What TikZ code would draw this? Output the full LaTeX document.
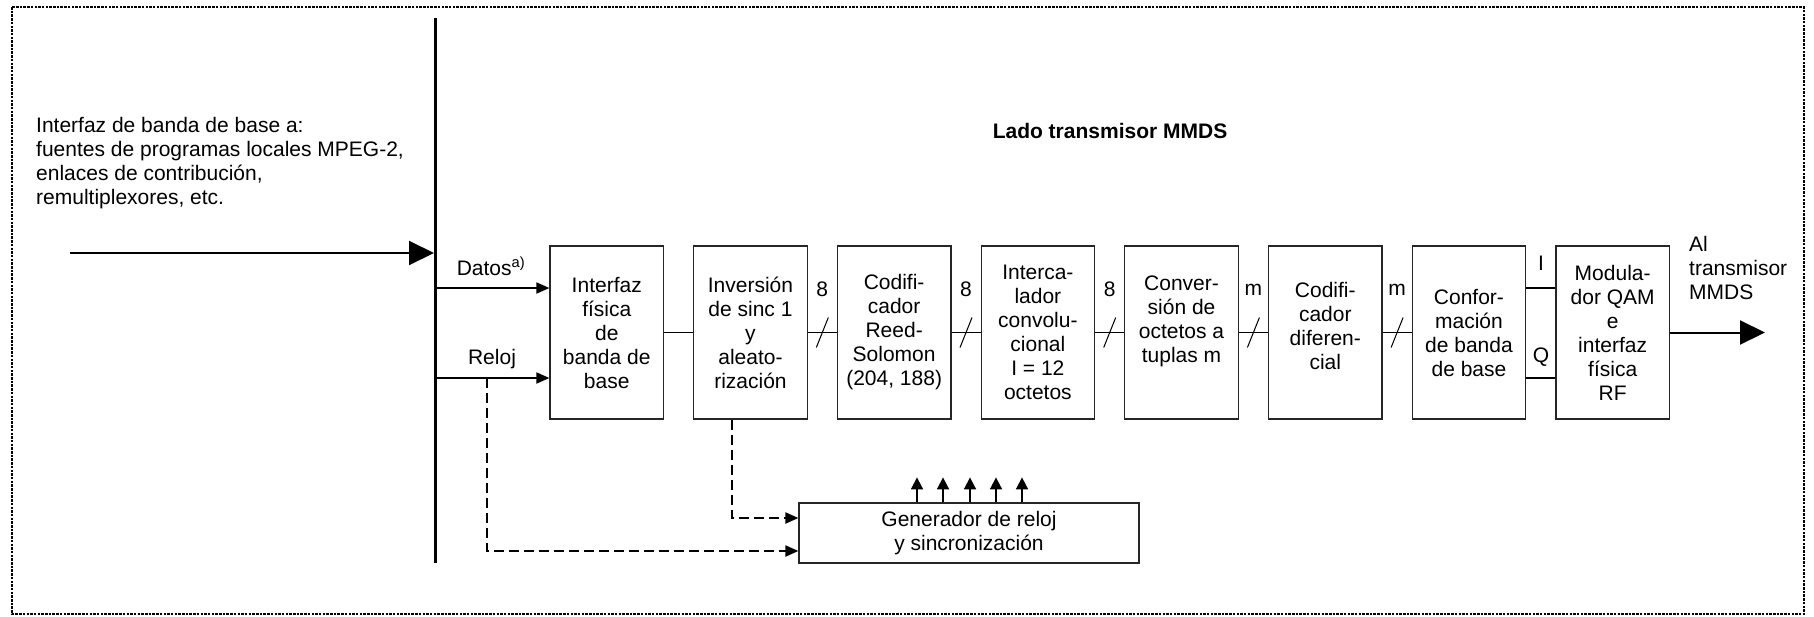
\documentclass[tikz,border=0pt]{standalone}
\usepackage{fontspec}
\setmainfont{Liberation Sans}
\usetikzlibrary{arrows.meta,calc}
\begin{document}
\begin{tikzpicture}[x=1pt,y=-1pt,
  font=\fontsize{21}{24}\selectfont,
  blk/.style={draw=black!85, line width=1.2pt, minimum width=113.5pt, minimum height=173pt, inner sep=0pt},
  btxt/.style={align=center, inner sep=0pt},
  gbox/.style={draw=black!85, line width=1.2pt, minimum width=340pt, minimum height=60pt, inner sep=0pt, align=center},
  conn/.style={line width=1.8pt},
  bigarrow/.style={line width=2pt, -{Triangle[length=25pt,width=24pt]}},
  smallarrow/.style={line width=1.8pt, -{Triangle[length=13pt,width=11pt]}},
  uparrow/.style={line width=1.8pt, -{Triangle[length=12pt,width=12pt]}},
  dashconn/.style={line width=2pt, dash pattern=on 10pt off 5pt, -{Triangle[length=13pt,width=11pt]}},
  slashmark/.style={line width=1pt},
  lbl/.style={inner sep=0pt},
  framestyle/.style={line width=1.5pt, dash pattern=on 2.5pt off 1.2pt}
]
\useasboundingbox (0,0) rectangle (1814,616);
% frame
\draw[framestyle] (12,7) rectangle (1804,614);

% title and source text
\node[lbl, font=\fontsize{21}{24}\selectfont\bfseries] (title) at (1110,131) {Lado transmisor MMDS};
\node[lbl, anchor=north west, align=left] (src) at (36,117)
  {Interfaz de banda de base a:\\fuentes de programas locales MPEG-2,\\enlaces de contribución,\\remultiplexores, etc.};

% vertical bar
\coordinate (bartop) at (435,18);
\coordinate (barbot) at (435,563);
\draw[line width=3pt] (bartop) -- (barbot);

% incoming big arrow
\coordinate (inL) at (70,253);
\coordinate (inR) at (434,253);
\draw[bigarrow] (inL) -- (inR);

% blocks
\node[blk] (b1) at (606.75,332.5) {};
\node[blk] (b2) at (750.45,332.5) {};
\node[blk] (b3) at (894.15,332.5) {};
\node[blk] (b4) at (1037.85,332.5) {};
\node[blk] (b5) at (1181.55,332.5) {};
\node[blk] (b6) at (1325.25,332.5) {};
\node[blk] (b7) at (1468.95,332.5) {};
\node[blk] (b8) at (1612.65,332.5) {};

\node[btxt] (t1) at (b1.center) {Interfaz\\física\\de\\banda de\\base};
\node[btxt] (t2) at (b2.center) {Inversión\\de sinc 1\\y\\aleato-\\rización};
\node[btxt] (t3) at (b3.center) {Codifi-\\cador\\Reed-\\Solomon\\(204, 188)};
\node[btxt] (t4) at (b4.center) {Interca-\\lador\\convolu-\\cional\\I = 12\\octetos};
\node[btxt] (t5) at ([yshift=11pt]b5.center) {Conver-\\sión de\\octetos a\\tuplas m};
\node[btxt] (t6) at ([yshift=7pt]b6.center) {Codifi-\\cador\\diferen-\\cial};
\node[btxt] (t7) at (b7.center) {Confor-\\mación\\de banda\\de base};
\node[btxt] (t8) at (b8.center) {Modula-\\dor QAM\\e\\interfaz\\física\\RF};

% Datos / Reloj inputs
\coordinate (dat) at (436,288);
\coordinate (rel) at (436,378);
\draw[smallarrow] (dat) -- (dat -| b1.west);
\draw[smallarrow] (rel) -- (rel -| b1.west);
\node[lbl, anchor=base] (datlbl) at (491,275) {Datos\textsuperscript{a)}};
\node[lbl, anchor=base] (rellbl) at (492,364.5) {Reloj};

% chain
\draw[conn] (b1.east) -- (b2.west);
\foreach \a/\b/\t in {b2/b3/8, b3/b4/8, b4/b5/8, b5/b6/m, b6/b7/m}{
  \draw[conn] (\a.east) -- (\b.west);
  \draw[slashmark] ($(\a.east)!0.5!(\b.west)$) +(-6,15) -- +(6,-15);
  \node[lbl] at ($(\a.east)!0.5!(\b.west)+(0,-43)$) {\t};
}

% I / Q
\draw[conn] (b7.east |- dat) -- (b8.west |- dat);
\draw[conn] (b7.east |- rel) -- (b8.west |- rel);
\node[lbl] (ilbl) at (1541,263) {I};
\node[lbl] (qlbl) at (1541,357) {Q};

% output
\coordinate (out) at (1765,332.5);
\draw[bigarrow] (b8.east) -- (out);
\node[lbl, anchor=north west, align=left] (outlbl) at (1689,236.5) {Al\\transmisor\\MMDS};

% generator
\node[gbox] (gen) at (969,533) {Generador de reloj\\y sincronización};
\foreach \x in {917,943,970,996,1022}{
  \draw[uparrow] (gen.north -| \x,0) -- ++(0,-25);
}
\coordinate (relk) at (487,378);
\draw[dashconn] (relk) |- ([yshift=-18pt]gen.west);
\draw[dashconn] ([xshift=-18pt]b2.south) |- ([yshift=15pt]gen.west);
\end{tikzpicture}
\end{document}
